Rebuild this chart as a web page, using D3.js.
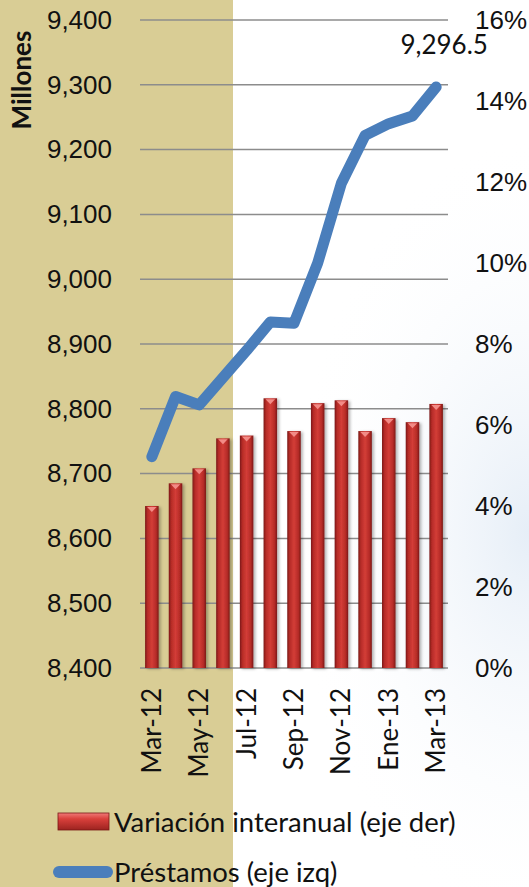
<!DOCTYPE html>
<html>
<head>
<meta charset="utf-8">
<script src="https://cdn.jsdelivr.net/npm/d3@7"></script>
<style>
  html, body { margin: 0; padding: 0; background: #fff; }
  svg { display: block; font-family: Lato, "Open Sans", sans-serif; }
  .tick-label { font-size: 26px; fill: #111; }
  .legend-label { font-size: 27.5px; fill: #111; }
</style>
</head>
<body>
<div id="chart"></div>
<script>
/* Préstamos vs variación interanual */

const months = ['Mar-12', 'Abr-12', 'May-12', 'Jun-12', 'Jul-12', 'Ago-12', 'Sep-12',
  'Oct-12', 'Nov-12', 'Dic-12', 'Ene-13', 'Feb-13', 'Mar-13'];
const prestamos = [8726, 8819, 8806, 8848, 8890, 8934, 8932, 9025, 9148, 9222, 9240, 9252, 9296.5];
const variacion = [0.040, 0.0456, 0.0493, 0.0567, 0.0574, 0.0666, 0.0585, 0.0654, 0.0661, 0.0585, 0.0617, 0.0607, 0.0652];
const leftTicks = [8400, 8500, 8600, 8700, 8800, 8900, 9000, 9100, 9200, 9300, 9400];
const rightTicks = [0, 0.02, 0.04, 0.06, 0.08, 0.10, 0.12, 0.14, 0.16];
const shownMonths = ['Mar-12', 'May-12', 'Jul-12', 'Sep-12', 'Nov-12', 'Ene-13', 'Mar-13'];

function renderChart() {
  const width = 529, height = 887;
  const plot = { left: 140, right: 448, top: 20, bottom: 668 };

  const svg = d3.select('#chart').append('svg')
    .attr('width', width).attr('height', height);

  const defs = svg.append('defs');
  const grad = defs.append('linearGradient').attr('id', 'barGrad')
    .attr('x1', 0).attr('x2', 1).attr('y1', 0).attr('y2', 0);
  [['0%', '#7a1816'], ['18%', '#b52b27'], ['50%', '#d33d37'], ['82%', '#b52b27'], ['100%', '#7a1816']]
    .forEach(([o, c]) => grad.append('stop').attr('offset', o).attr('stop-color', c));

  const legGrad = defs.append('linearGradient').attr('id', 'legGrad')
    .attr('x1', 0).attr('x2', 0).attr('y1', 0).attr('y2', 1);
  [['0%', '#f07a78'], ['35%', '#d9403b'], ['100%', '#9c2320']]
    .forEach(([o, c]) => legGrad.append('stop').attr('offset', o).attr('stop-color', c));

  const shadow = defs.append('filter').attr('id', 'shadow')
    .attr('x', '-50%').attr('y', '-10%').attr('width', '200%').attr('height', '120%');
  shadow.append('feDropShadow').attr('dx', 2).attr('dy', 1).attr('stdDeviation', 1.5)
    .attr('flood-color', '#000').attr('flood-opacity', 0.3);

  // faint bluish glow on the right side
  const glow = defs.append('radialGradient').attr('id', 'glow')
    .attr('cx', '100%').attr('cy', '60%').attr('r', '45%');
  glow.append('stop').attr('offset', '0%').attr('stop-color', '#e6eef7');
  glow.append('stop').attr('offset', '100%').attr('stop-color', '#fff').attr('stop-opacity', 0);
  svg.append('rect').attr('x', 0).attr('y', 0).attr('width', width).attr('height', height)
    .attr('fill', 'url(#glow)');

  // tan band on the left
  svg.append('rect').attr('x', 0).attr('y', 0).attr('width', 233).attr('height', height)
    .attr('fill', '#d9cd95');

  const x = d3.scaleBand().domain(months).range([plot.left, plot.right])
    .paddingInner(0.43).paddingOuter(0.215);
  const yL = d3.scaleLinear().domain([8400, 9400]).range([plot.bottom, plot.top]);
  const yR = d3.scaleLinear().domain([0, 0.16]).range([plot.bottom, plot.top]);

  // gridlines
  svg.append('g').selectAll('line').data(leftTicks).enter().append('line')
    .attr('x1', plot.left).attr('x2', plot.right)
    .attr('y1', d => yL(d)).attr('y2', d => yL(d))
    .attr('stroke', '#8c8c8c').attr('stroke-width', 1.5);

  // left axis labels
  const axisL = svg.append('g').attr('transform', `translate(${plot.left - 28},0)`)
    .call(d3.axisLeft(yL).tickValues(leftTicks).tickSize(0).tickPadding(0).tickFormat(d3.format(',')));
  axisL.select('.domain').remove();
  axisL.selectAll('text').attr('class', 'tick-label').attr('font-family', null).attr('font-size', null);

  // right axis labels
  const axisR = svg.append('g').attr('transform', `translate(${plot.right + 27},0)`)
    .call(d3.axisRight(yR).tickValues(rightTicks).tickSize(0).tickPadding(0).tickFormat(d3.format('.0%')));
  axisR.select('.domain').remove();
  axisR.selectAll('text').attr('class', 'tick-label').attr('font-family', null).attr('font-size', null);

  svg.append('text')
    .attr('transform', `translate(31,80) rotate(-90)`)
    .attr('text-anchor', 'middle')
    .style('font-size', '26px').style('font-weight', 'bold').style('fill', '#111')
    .text('Millones');

  // bars
  const bars = svg.append('g').selectAll('g').data(months).enter().append('g');
  bars.append('rect')
    .attr('x', d => x(d))
    .attr('y', (d, i) => yR(variacion[i]))
    .attr('width', x.bandwidth())
    .attr('height', (d, i) => plot.bottom - yR(variacion[i]))
    .attr('fill', 'url(#barGrad)')
    .attr('filter', 'url(#shadow)');
  bars.append('path')
    .attr('d', (d, i) => {
      const x0 = x(d), w = x.bandwidth(), t = yR(variacion[i]);
      return `M${x0 + 2},${t + 1}L${x0 + w - 2},${t + 1}L${x0 + w / 2},${t + 6}Z`;
    })
    .attr('fill', '#f28b86');

  // x labels
  svg.append('g').selectAll('text').data(shownMonths).enter().append('text')
    .attr('class', 'tick-label')
    .attr('transform', d => `translate(${x(d) + x.bandwidth() / 2 + 9},688) rotate(-90)`)
    .attr('text-anchor', 'end')
    .text(d => d);

  // line
  const line = d3.line()
    .x((d, i) => x(months[i]) + x.bandwidth() / 2)
    .y(d => yL(d));
  svg.append('path').datum(prestamos)
    .attr('d', line)
    .attr('fill', 'none')
    .attr('stroke', '#4a7ebb')
    .attr('stroke-width', 11)
    .attr('stroke-linejoin', 'round')
    .attr('stroke-linecap', 'round');

  const last = prestamos.length - 1;
  svg.append('text')
    .attr('class', 'tick-label')
    .attr('x', x(months[last]) + x.bandwidth() / 2 + 8)
    .attr('y', 54)
    .attr('text-anchor', 'middle')
    .text(d3.format(',.1f')(prestamos[last]));

  // legend
  const leg = svg.append('g');
  leg.append('rect').attr('x', 58).attr('y', 813).attr('width', 51).attr('height', 17)
    .attr('fill', 'url(#legGrad)').attr('stroke', '#7a1816').attr('stroke-width', 0.8);
  leg.append('text').attr('class', 'legend-label').attr('x', 114).attr('y', 822).attr('dy', '0.35em')
    .text('Variación interanual (eje der)');
  leg.append('line').attr('x1', 59).attr('x2', 107).attr('y1', 872).attr('y2', 872)
    .attr('stroke', '#4a7ebb').attr('stroke-width', 12).attr('stroke-linecap', 'round');
  leg.append('text').attr('class', 'legend-label').attr('x', 114).attr('y', 872).attr('dy', '0.35em')
    .text('Préstamos (eje izq)');
}

document.addEventListener('DOMContentLoaded', renderChart);
</script>
</body>
</html>
